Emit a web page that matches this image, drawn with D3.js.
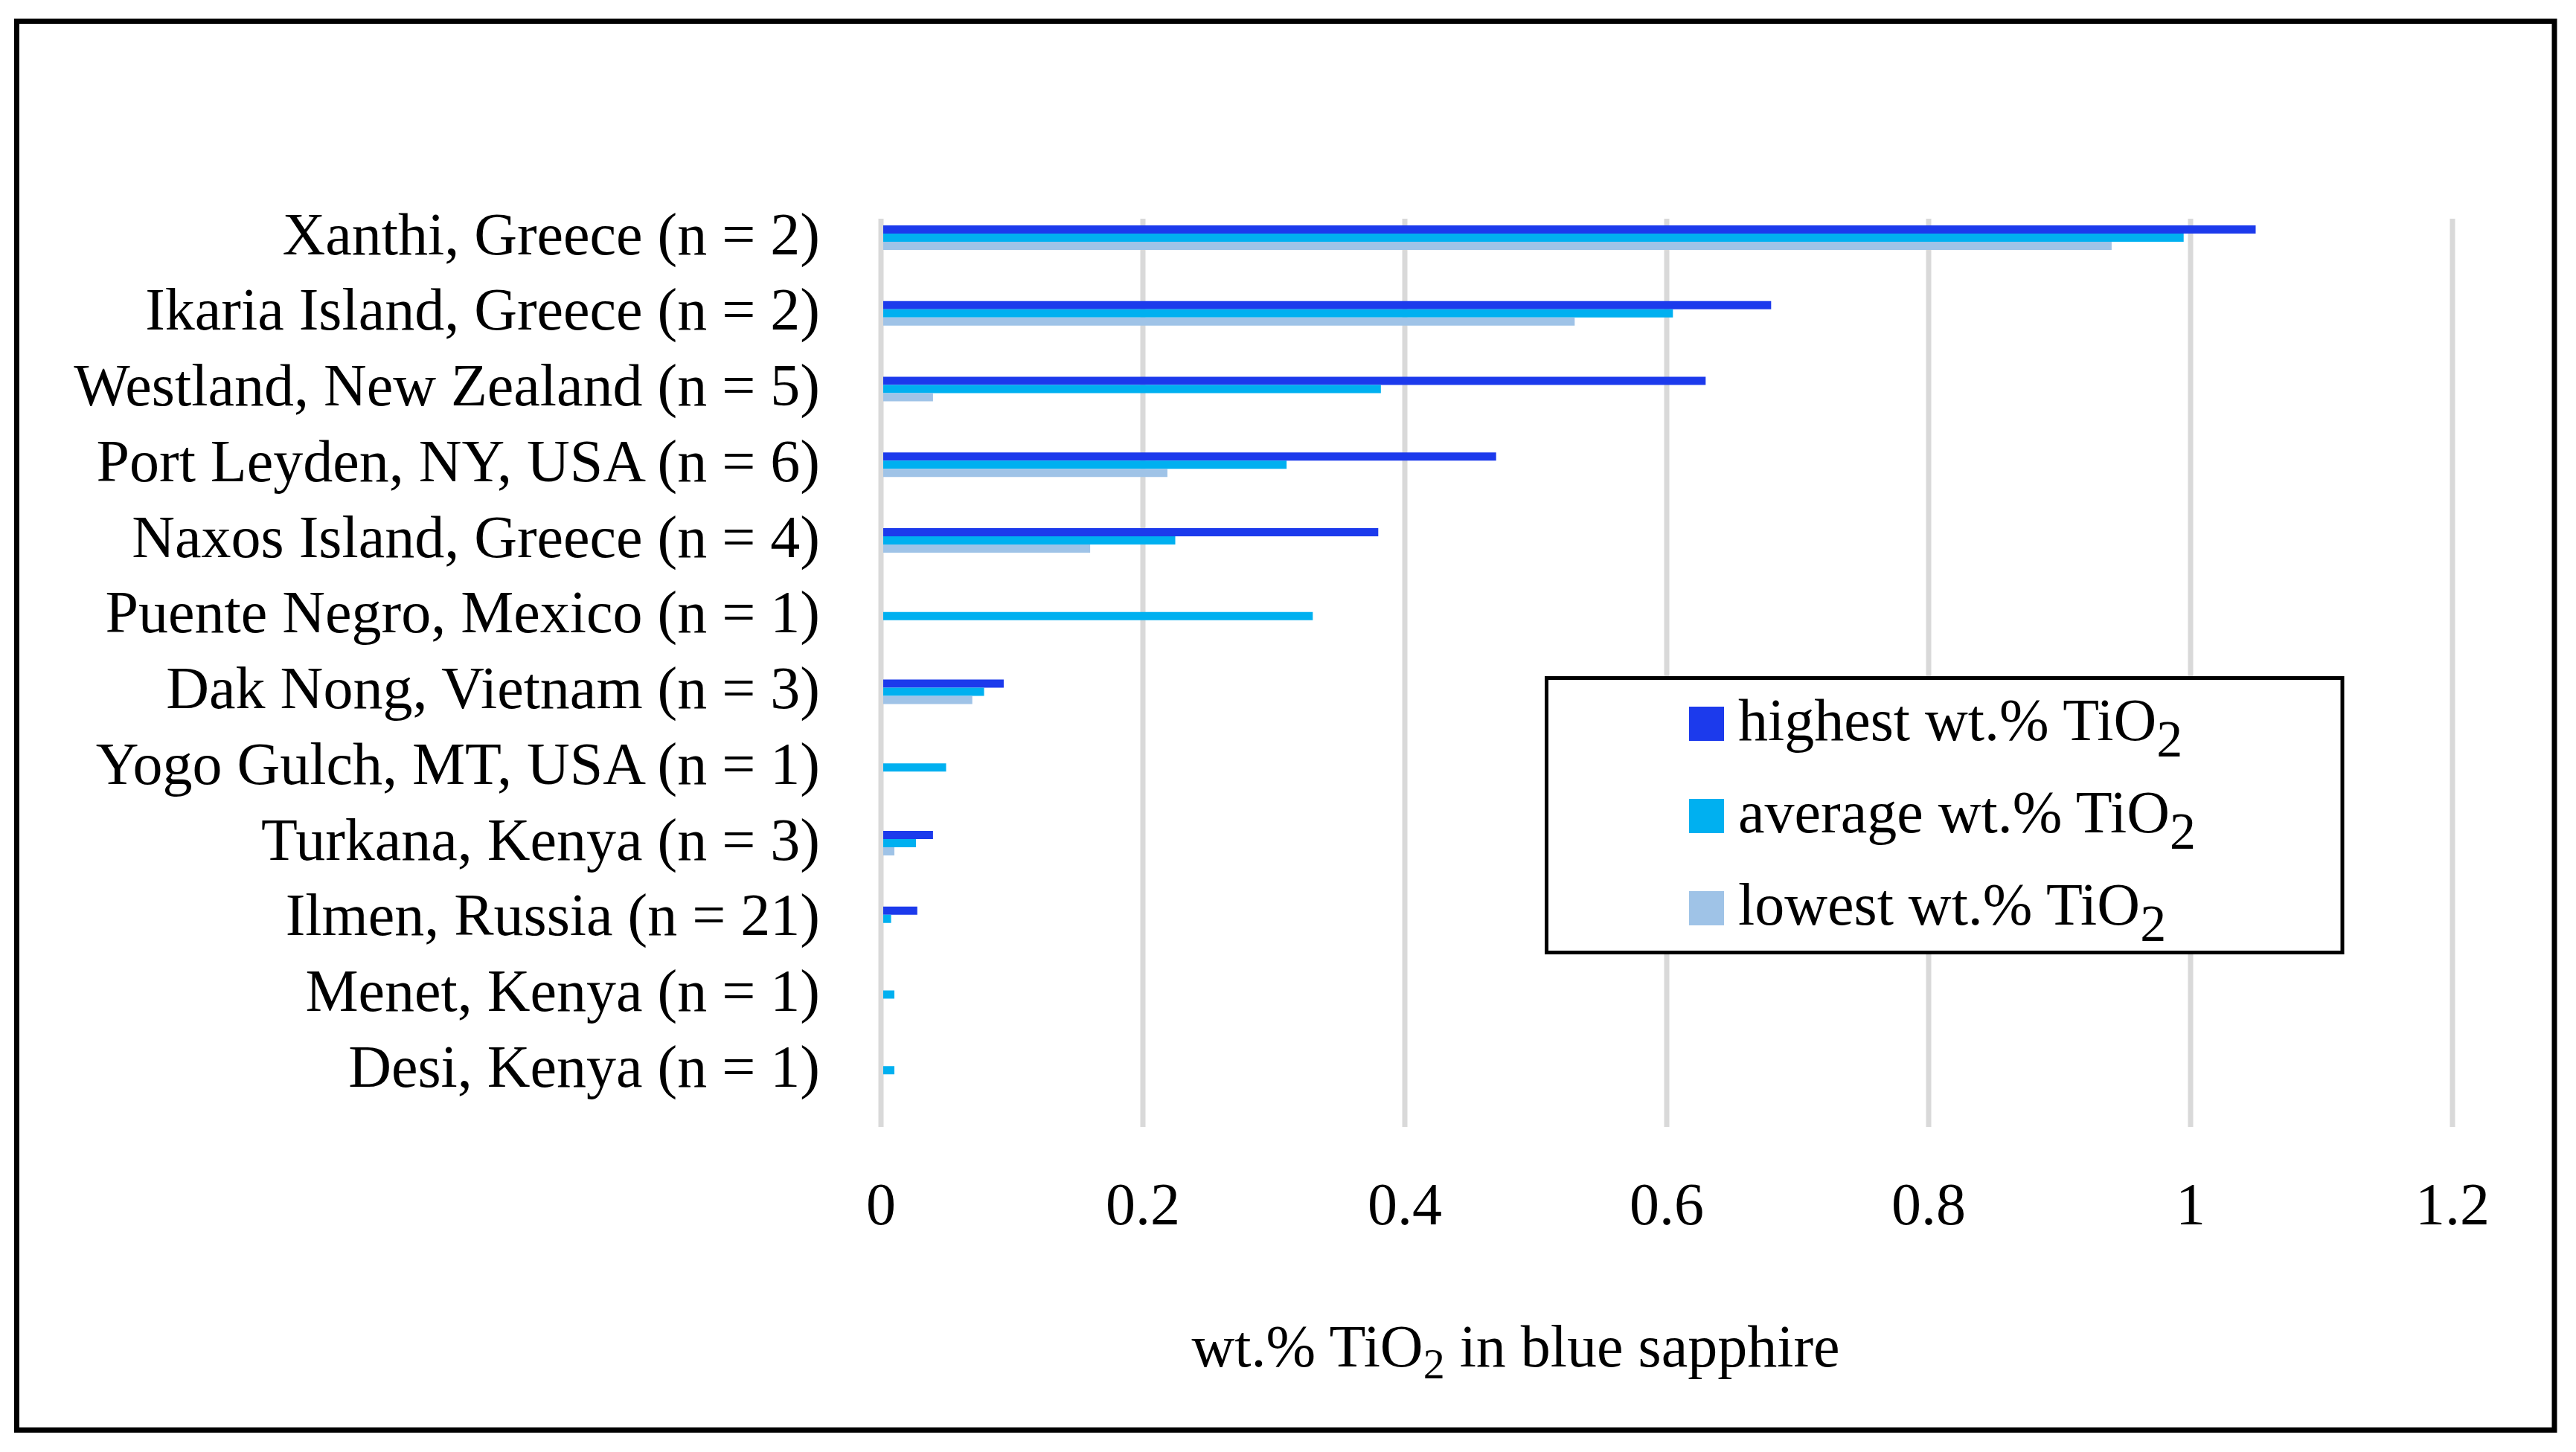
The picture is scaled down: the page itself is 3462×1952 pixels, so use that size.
<!DOCTYPE html>
<html>
<head>
<meta charset="utf-8">
<script src="https://cdn.jsdelivr.net/npm/d3@7/dist/d3.min.js"></script>
<style>
  html, body { margin: 0; padding: 0; background: #ffffff; }
  svg { display: block; }
  text { font-family: "Palatino Linotype", "Book Antiqua", Palatino, "Liberation Serif", serif; fill: #000; }
</style>
</head>
<body>
<svg id="chart" width="3462" height="1952"></svg>
<script>
// ---- data ----
const categories = [
  "Xanthi, Greece (n = 2)",
  "Ikaria Island, Greece (n = 2)",
  "Westland, New Zealand (n = 5)",
  "Port Leyden, NY, USA (n = 6)",
  "Naxos Island, Greece (n = 4)",
  "Puente Negro, Mexico (n = 1)",
  "Dak Nong, Vietnam (n = 3)",
  "Yogo Gulch, MT, USA (n = 1)",
  "Turkana, Kenya (n = 3)",
  "Ilmen, Russia (n = 21)",
  "Menet, Kenya (n = 1)",
  "Desi, Kenya (n = 1)"
];
const highest = [1.05, 0.68, 0.63, 0.47, 0.38, null, 0.094, null, 0.04, 0.028, null, null];
const average = [0.995, 0.605, 0.382, 0.31, 0.225, 0.33, 0.079, 0.05, 0.027, 0.008, 0.0105, 0.0105];
const lowest  = [0.94, 0.53, 0.04, 0.219, 0.16, null, 0.07, null, 0.0105, null, null, null];
const seriesNames = ["highest wt.% TiO", "average wt.% TiO", "lowest wt.% TiO"];
const seriesColors = ["#1C3AEC", "#00B0F0", "#9FC3E7"];
const xTicks = [0, 0.2, 0.4, 0.6, 0.8, 1, 1.2];
const xTickLabels = ["0", "0.2", "0.4", "0.6", "0.8", "1", "1.2"];
const axisTitle = ["wt.% TiO", "2", " in blue sapphire"];

// ---- layout ----
const W = 3462, H = 1952;
const plot = { left: 1183.5, right: 3295.5, top: 294, bottom: 1515 };
const FS = 80;
const gridW = 7;

const svg = d3.select("#chart");
svg.append("rect").attr("x", 0).attr("y", 0).attr("width", W).attr("height", H).attr("fill", "#fff");

// outer frame
svg.append("rect")
  .attr("x", 22.5).attr("y", 28.5)
  .attr("width", 3433 - 22.5).attr("height", 1922.5 - 28.5)
  .attr("fill", "none").attr("stroke", "#000").attr("stroke-width", 7);

const x = d3.scaleLinear().domain([0, 1.2]).range([plot.left, plot.right]);
const y = d3.scaleBand().domain(categories).range([plot.top, plot.bottom]).padding(0);
const sub = d3.scaleBand().domain([0, 1, 2]).range([9, 42]).padding(0);

// gridlines + tick labels via axis
const xAxis = d3.axisBottom(x)
  .tickValues(xTicks)
  .tickSize(-(plot.bottom - plot.top))
  .tickFormat((d, i) => xTickLabels[i]);
const gAxis = svg.append("g")
  .attr("transform", `translate(0,${plot.bottom})`)
  .call(xAxis);
gAxis.select(".domain").remove();
gAxis.selectAll(".tick line").attr("stroke", "#D9D9D9").attr("stroke-width", gridW);
gAxis.selectAll(".tick text")
  .attr("y", 1646 - plot.bottom)
  .attr("dy", null)
  .attr("font-size", FS)
  .attr("font-family", '"Palatino Linotype", "Book Antiqua", Palatino, "Liberation Serif", serif')
  .attr("fill", "#000");

// bars
const seriesData = [highest, average, lowest];
seriesData.forEach((vals, s) => {
  svg.append("g").selectAll("rect")
    .data(categories.map((c, i) => ({ c, v: vals[i] })).filter(d => d.v != null && d.v > 0))
    .join("rect")
    .attr("x", x(0) + gridW / 2)
    .attr("y", d => y(d.c) + sub(s))
    .attr("width", d => Math.max(0, x(d.v) - x(0) - gridW / 2))
    .attr("height", sub.bandwidth())
    .attr("fill", seriesColors[s]);
});

// category labels
svg.append("g").selectAll("text")
  .data(categories)
  .join("text")
  .attr("x", 1102)
  .attr("y", d => y(d) + sub(1) + sub.bandwidth() / 2 + 22)
  .attr("text-anchor", "end")
  .attr("font-size", FS)
  .text(d => d);

// axis title
const t = svg.append("text")
  .attr("x", 2037).attr("y", 1837)
  .attr("text-anchor", "middle")
  .attr("font-size", FS);
t.append("tspan").text(axisTitle[0]);
t.append("tspan").attr("font-size", 58).attr("dy", 16).text(axisTitle[1]);
t.append("tspan").attr("dy", -16).text(axisTitle[2]);

// legend
const lg = svg.append("g");
lg.append("rect")
  .attr("x", 2078.5).attr("y", 911.5)
  .attr("width", 3148 - 2078.5).attr("height", 1280.5 - 911.5)
  .attr("fill", "#fff").attr("stroke", "#000").attr("stroke-width", 5);
const baselines = [995, 1119, 1243];
seriesNames.forEach((name, i) => {
  lg.append("rect")
    .attr("x", 2270).attr("y", baselines[i] - 45)
    .attr("width", 47).attr("height", 46)
    .attr("fill", seriesColors[i]);
  const tx = lg.append("text")
    .attr("x", 2336).attr("y", baselines[i])
    .attr("font-size", FS);
  tx.append("tspan").text(name);
  tx.append("tspan").attr("font-size", 70).attr("dy", 22).text("2");
});
</script>
</body>
</html>
